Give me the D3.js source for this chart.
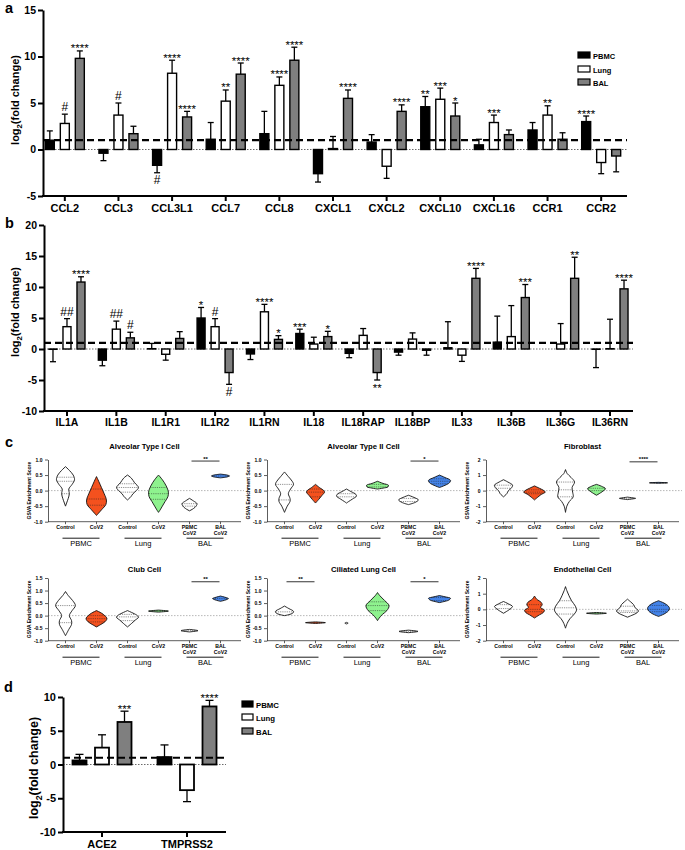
<!DOCTYPE html>
<html>
<head>
<meta charset="utf-8">
<script src="https://cdn.jsdelivr.net/npm/d3@7"></script>
<style>
  body { margin: 0; background: #fff; }
  svg { display: block; font-family: Arial, "Liberation Sans", Helvetica, sans-serif; }
</style>
</head>
<body>
<svg id="fig" width="685" height="850"></svg>
<script>
// ---------- shared ----------
const groups = ["PBMC", "Lung", "BAL"];
const barFills = ["#000000", "#ffffff", "#7f7f7f"];

// ---------- panel a : chemokines ----------
const genesA = ["CCL2", "CCL3", "CCL3L1", "CCL7", "CCL8", "CXCL1", "CXCL2", "CXCL10", "CXCL16", "CCR1", "CCR2"];
const pbmcA = [1.0, -0.4, -1.7, 1.1, 1.7, -2.6, 0.8, 4.6, 0.5, 2.1, 3.0];
const lungA = [2.8, 3.7, 8.2, 5.2, 6.9, 0.1, -1.8, 5.4, 2.9, 3.7, -1.4];
const balA  = [9.8, 1.7, 3.5, 8.1, 9.6, 5.5, 4.1, 3.6, 1.6, 1.1, -0.7];
const pbmcErrA = [1.0, 0.8, 0.8, 1.8, 2.4, 0.9, 0.8, 1.1, 0.6, 0.8, 0.6];
const lungErrA = [1.0, 1.3, 1.4, 1.2, 0.9, 1.3, 1.3, 1.2, 0.8, 1.0, 1.2];
const balErrA  = [0.8, 0.8, 0.6, 1.2, 1.4, 0.9, 0.7, 1.4, 0.5, 0.7, 1.7];
const pbmcSigA = ["", "", "#", "", "", "", "", "**", "", "", "****"];
const lungSigA = ["#", "#", "****", "**", "****", "", "", "***", "***", "**", ""];
const balSigA  = ["****", "", "****", "****", "****", "****", "****", "*", "", "", ""];
const ticksA = [-5, 0, 5, 10, 15];

// ---------- panel b : IL-1 family ----------
const genesB = ["IL1A", "IL1B", "IL1R1", "IL1R2", "IL1RN", "IL18", "IL18RAP", "IL18BP", "IL33", "IL36B", "IL36G", "IL36RN"];
const pbmcB = [-0.05, -1.8, 0.05, 5.0, -0.8, 2.5, -0.7, -0.5, 0.2, 1.1, 0, -0.05];
const lungB = [3.6, 3.2, -0.85, 3.6, 6.0, 0.8, 2.2, 1.6, -1.0, 2.0, 0.8, 0.05];
const balB  = [10.8, 1.8, 1.7, -3.8, 1.55, 2.0, -3.8, -0.2, 11.4, 8.3, 11.4, 9.7];
const pbmcErrB = [2.0, 0.9, 0.85, 1.7, 0.9, 0.7, 0.7, 0.5, 4.2, 4.2, 0, 2.95];
const lungErrB = [1.3, 1.3, 0.95, 1.3, 1.2, 1.1, 1.1, 1.0, 1.0, 5.0, 3.3, 4.75];
const balErrB  = [0.85, 0.9, 1.1, 1.9, 0.6, 0.85, 1.2, 0.8, 1.6, 2.1, 3.4, 1.4];
const pbmcSigB = ["", "", "", "*", "", "***", "", "", "", "", "", ""];
const lungSigB = ["##", "##", "", "#", "****", "", "", "", "", "", "", ""];
const balSigB  = ["****", "#", "", "#", "*", "*", "**", "", "****", "***", "**", "****"];
const ticksB = [-10, -5, 0, 5, 10, 15, 20];

// ---------- panel d : entry factors ----------
const genesD = ["ACE2", "TMPRSS2"];
const pbmcD = [0.6, 1.1];
const lungD = [2.5, -3.8];
const balD  = [6.3, 8.6];
const pbmcErrD = [0.9, 1.8];
const lungErrD = [1.9, 1.7];
const balErrD  = [1.6, 0.9];
const pbmcSigD = ["", ""];
const lungSigD = ["", ""];
const balSigD  = ["***", "****"];
const ticksD = [-10, -5, 0, 5, 10];

// ---------- panel c : GSVA violins ----------
const cellTitles = ["Alveolar Type I Cell", "Alveolar Type II Cell", "Fibroblast", "Club Cell", "Ciliated Lung Cell", "Endothelial Cell"];
const violinCats = ["Control", "CoV2", "Control", "CoV2", "PBMC|CoV2", "BAL|CoV2"];
const tissueLabels = ["PBMC", "Lung", "BAL"];
const violinFills = ["#ffffff", "#f4511e", "#ffffff", "#8ef28e", "#ffffff", "#4483e8"];
const scoreDomains = [[-1, 1], [-1, 1], [-2, 2], [-1, 1.5], [-1, 1.5], [-2, 2]];
const scoreTicks = [
  [-1, -0.5, 0, 0.5, 1], [-1, -0.5, 0, 0.5, 1], [-2, -1, 0, 1, 2],
  [-1, -0.5, 0, 0.5, 1, 1.5], [-1, -0.5, 0, 0.5, 1, 1.5], [-2, -1, 0, 1, 2]
];
// each violin: [score, relative density] from top to bottom
const shapesAT1 = [
  [[0.77,0],[0.65,0.35],[0.5,0.7],[0.35,0.82],[0.2,0.6],[0.05,0.3],[-0.1,0.35],[-0.25,0.25],[-0.4,0.1],[-0.5,0]],
  [[0.45,0],[0.3,0.2],[0.1,0.45],[-0.1,0.7],[-0.3,0.9],[-0.45,0.85],[-0.6,0.5],[-0.72,0.2],[-0.8,0]],
  [[0.5,0],[0.4,0.35],[0.25,0.65],[0.1,1.0],[0.0,0.8],[-0.1,0.5],[-0.2,0.3],[-0.3,0]],
  [[0.5,0],[0.35,0.35],[0.15,0.7],[-0.05,0.9],[-0.2,0.85],[-0.35,0.6],[-0.5,0.35],[-0.62,0.15],[-0.7,0]],
  [[-0.25,0],[-0.33,0.35],[-0.42,0.68],[-0.5,0.6],[-0.58,0.35],[-0.65,0]],
  [[0.53,0],[0.5,0.6],[0.47,0.82],[0.44,0.6],[0.41,0]]
];
const linesAT1 = [[0.43, 0.3, -0.1], [0.05, -0.27, -0.47], [0.22, 0.1, -0.05], [0.1, -0.1, -0.28], [-0.42, -0.5], [0.47]];
const shapesAT2 = [
  [[0.6,0],[0.45,0.35],[0.3,0.7],[0.2,0.82],[0.05,0.55],[-0.1,0.35],[-0.25,0.5],[-0.35,0.5],[-0.5,0.25],[-0.7,0]],
  [[0.2,0],[0.1,0.35],[0.0,0.75],[-0.05,0.82],[-0.15,0.6],[-0.28,0.3],[-0.4,0]],
  [[0.05,0],[-0.03,0.4],[-0.12,0.85],[-0.18,0.9],[-0.27,0.55],[-0.35,0.2],[-0.4,0]],
  [[0.3,0],[0.23,0.5],[0.17,1.0],[0.12,0.95],[0.08,0.5],[0.05,0]],
  [[-0.15,0],[-0.22,0.5],[-0.3,0.9],[-0.38,0.6],[-0.45,0]],
  [[0.5,0],[0.42,0.5],[0.33,1.0],[0.25,0.9],[0.17,0.5],[0.1,0]]
];
const linesAT2 = [[0.2, -0.3], [0.05, -0.05, -0.2], [-0.1, -0.2], [0.2, 0.12], [-0.25, -0.35], [0.38, 0.3, 0.22]];
const shapesFib = [
  [[0.7,0],[0.55,0.4],[0.35,0.82],[0.15,0.7],[0.0,0.45],[-0.2,0.3],[-0.4,0]],
  [[0.3,0],[0.15,0.45],[0.0,0.85],[-0.1,0.98],[-0.25,0.6],[-0.45,0.25],[-0.6,0]],
  [[1.35,0],[1.1,0.15],[0.85,0.5],[0.55,0.82],[0.2,0.6],[-0.1,0.65],[-0.4,0.7],[-0.7,0.35],[-1.0,0.12],[-1.4,0]],
  [[0.4,0],[0.28,0.45],[0.12,0.82],[0.0,0.65],[-0.15,0.35],[-0.3,0]],
  [[-0.42,0],[-0.47,0.5],[-0.5,0.73],[-0.53,0.5],[-0.58,0]],
  [[0.53,0],[0.5,0.82],[0.47,0]]
];
const linesFib = [[0.35, 0.15], [0.05, -0.1, -0.2], [0.55, 0.05, -0.4], [0.15, 0.0], [-0.5], [0.5]];
const shapesClub = [
  [[0.96,0],[0.8,0.25],[0.6,0.65],[0.4,0.9],[0.2,0.6],[0.0,0.35],[-0.2,0.55],[-0.35,0.55],[-0.55,0.3],[-0.8,0]],
  [[0.2,0],[0.1,0.45],[0.0,0.75],[-0.12,0.95],[-0.25,0.75],[-0.35,0.4],[-0.45,0]],
  [[0.2,0],[0.1,0.5],[0.0,0.9],[-0.07,1.0],[-0.18,0.7],[-0.32,0.35],[-0.45,0]],
  [[0.22,0],[0.18,0.9],[0.14,0]],
  [[-0.55,0],[-0.6,0.77],[-0.65,0]],
  [[0.78,0],[0.72,0.5],[0.68,0.72],[0.63,0.5],[0.57,0]]
];
const linesClub = [[0.4, -0.28], [0.0, -0.12, -0.25], [0.05, -0.05, -0.2], [0.18], [-0.6], [0.68]];
const shapesCil = [
  [[0.38,0],[0.28,0.4],[0.17,0.82],[0.1,0.75],[0.04,0.4],[0.0,0]],
  [[-0.25,0],[-0.28,0.9],[-0.31,0]],
  [[-0.27,0],[-0.3,0.15],[-0.33,0]],
  [[0.92,0],[0.8,0.2],[0.6,0.65],[0.4,1.05],[0.2,0.85],[0.05,0.45],[-0.1,0.15],[-0.2,0]],
  [[-0.58,0],[-0.63,0.86],[-0.68,0]],
  [[0.8,0],[0.75,0.5],[0.69,1.0],[0.62,0.85],[0.56,0.4],[0.52,0]]
];
const linesCil = [[0.15], [-0.28], [], [0.55, 0.4, 0.2], [-0.63], [0.72, 0.6]];
const shapesEndo = [
  [[0.5,0],[0.35,0.45],[0.18,0.82],[0.05,0.65],[-0.1,0.35],[-0.25,0]],
  [[0.85,0],[0.65,0.2],[0.45,0.6],[0.3,0.7],[0.12,0.55],[-0.05,0.9],[-0.2,0.8],[-0.35,0.45],[-0.55,0]],
  [[1.45,0],[1.2,0.12],[0.9,0.3],[0.55,0.55],[0.2,0.9],[-0.05,1.0],[-0.3,0.8],[-0.6,0.4],[-0.9,0.15],[-1.2,0]],
  [[-0.2,0],[-0.25,0.9],[-0.3,0]],
  [[0.65,0],[0.5,0.25],[0.3,0.55],[0.1,0.7],[-0.1,1.0],[-0.25,0.8],[-0.38,0.4],[-0.5,0]],
  [[0.55,0],[0.4,0.5],[0.2,0.9],[0.05,1.0],[-0.1,0.9],[-0.3,0.5],[-0.45,0]]
];
const linesEndo = [[0.3, 0.05], [0.3, 0.0, -0.15], [0.55, 0.1, -0.3], [-0.25], [0.2, -0.1, -0.2], [0.25, 0.0, -0.15]];
const allShapes = [shapesAT1, shapesAT2, shapesFib, shapesClub, shapesCil, shapesEndo];
const allLines = [linesAT1, linesAT2, linesFib, linesClub, linesCil, linesEndo];
// [cell, from, to, score, label]
const sigBarsC = [
  [0, 4, 5, 0.95, "**"], [1, 4, 5, 0.95, "*"], [2, 4, 5, 1.85, "****"],
  [3, 4, 5, 1.35, "**"], [4, 0, 1, 1.35, "**"], [4, 4, 5, 1.35, "*"]
];

const svg = d3.select("#fig");

// panel letters
[["a", 5, 13], ["b", 5, 228], ["c", 5, 447], ["d", 4, 692]].forEach(([t, x, y]) => {
  svg.append("text").attr("x", x).attr("y", y).attr("font-size", 14.5)
    .attr("font-weight", "bold").text(t);
});

function logLabel(g, x, y, size) {
  const t = g.append("text").attr("transform", `translate(${x},${y}) rotate(-90)`)
    .attr("text-anchor", "middle").attr("font-weight", "bold").attr("font-size", size);
  t.append("tspan").text("log");
  t.append("tspan").attr("font-size", size * 0.7).attr("dy", size * 0.3).text("2");
  t.append("tspan").attr("dy", -size * 0.3).text("(fold change)");
}

function barPanel(cfg) {
  const g = svg.append("g");
  const y = d3.scaleLinear().domain(cfg.yDomain).range([cfg.yBottom, cfg.yTop]);
  const x = d3.scaleBand().domain(cfg.genes).range(cfg.xRange);
  const cx = (gene, s) => x(gene) + x.bandwidth() / 2 + (s - 1) * cfg.off;

  // dotted zero line
  g.append("line").attr("x1", cfg.axisX).attr("x2", cfg.axisEnd)
    .attr("y1", y(0)).attr("y2", y(0))
    .attr("stroke", "#444").attr("stroke-width", 0.8).attr("stroke-dasharray", "1.5,1.5");

  cfg.vals.forEach((series, s) => {
    const rows = cfg.genes.map((gene, i) => ({
      gene, v: series[i], e: cfg.errs[s][i], sig: cfg.sigs[s][i], dir: series[i] < 0 ? -1 : 1
    }));
    const sg = g.append("g");
    // error bars first so bars cover the stem
    const eb = sg.selectAll("g.err").data(rows.filter(d => d.e > 0)).join("g").attr("class", "err");
    eb.append("line")
      .attr("x1", d => cx(d.gene, s)).attr("x2", d => cx(d.gene, s))
      .attr("y1", d => y(d.v)).attr("y2", d => y(d.v + d.dir * d.e))
      .attr("stroke", "#000").attr("stroke-width", cfg.errW);
    eb.append("line")
      .attr("x1", d => cx(d.gene, s) - cfg.capW / 2).attr("x2", d => cx(d.gene, s) + cfg.capW / 2)
      .attr("y1", d => y(d.v + d.dir * d.e)).attr("y2", d => y(d.v + d.dir * d.e))
      .attr("stroke", "#000").attr("stroke-width", cfg.errW);

    sg.selectAll("rect").data(rows.filter(d => d.v !== 0)).join("rect")
      .attr("x", d => cx(d.gene, s) - cfg.barW / 2).attr("width", cfg.barW)
      .attr("y", d => y(Math.max(0, d.v)))
      .attr("height", d => Math.abs(y(d.v) - y(0)))
      .attr("fill", barFills[s]).attr("stroke", "#000").attr("stroke-width", cfg.barStroke);

    sg.selectAll("text").data(rows.filter(d => d.sig)).join("text")
      .attr("x", d => cx(d.gene, s))
      .attr("y", d => {
        const end = y(d.v + d.dir * d.e);
        if (d.dir < 0) return end + (d.sig.startsWith("#") ? 11.5 : 12);
        return d.sig.startsWith("#") ? end - 3 : end + 1.5;
      })
      .attr("text-anchor", "middle")
      .attr("font-size", d => d.sig.startsWith("#") ? 12 : 11.5)
      .text(d => d.sig);
  });

  // threshold line at log2FC = 1
  g.append("line").attr("x1", cfg.axisX).attr("x2", cfg.axisEnd)
    .attr("y1", y(1)).attr("y2", y(1))
    .attr("stroke", "#000").attr("stroke-width", 2.2).attr("stroke-dasharray", "7,4");

  // axes
  const ya = g.append("g").attr("transform", `translate(${cfg.axisX},0)`)
    .call(d3.axisLeft(y).tickValues(cfg.ticks).tickSize(5).tickSizeOuter(0).tickPadding(2)
      .tickFormat(d => String(d)));
  ya.select(".domain").attr("stroke-width", 2);
  ya.selectAll(".tick line").attr("stroke-width", 2);
  ya.selectAll("text").attr("font-size", cfg.tickFont).attr("font-weight", "bold")
    .attr("font-family", "Arial, 'Liberation Sans', sans-serif");

  const xa = g.append("g").attr("transform", `translate(0,${cfg.yBottom})`)
    .call(d3.axisBottom(x).tickSize(5).tickSizeOuter(0).tickPadding(3));
  xa.select(".domain").remove();
  xa.selectAll(".tick line").attr("stroke-width", 2);
  xa.selectAll("text").attr("font-size", cfg.catFont).attr("font-weight", "bold")
    .attr("font-family", "Arial, 'Liberation Sans', sans-serif");
  g.append("line").attr("x1", cfg.axisX - 1).attr("x2", cfg.axisEnd)
    .attr("y1", cfg.yBottom).attr("y2", cfg.yBottom)
    .attr("stroke", "#000").attr("stroke-width", 2);

  logLabel(g, cfg.labelX, cfg.labelY, cfg.labelFont);
  return g;
}

function legend(x, ys, boxW, boxH, fs) {
  const lg = svg.append("g");
  groups.forEach((name, i) => {
    lg.append("rect").attr("x", x).attr("y", ys[i]).attr("width", boxW).attr("height", boxH)
      .attr("fill", barFills[i]).attr("stroke", "#000").attr("stroke-width", 1.2);
    lg.append("text").attr("x", x + boxW + 3).attr("y", ys[i] + boxH + 0.5)
      .attr("font-size", fs).attr("font-weight", "bold").text(name);
  });
}

// ---- a ----
barPanel({
  genes: genesA, vals: [pbmcA, lungA, balA], errs: [pbmcErrA, lungErrA, balErrA],
  sigs: [pbmcSigA, lungSigA, balSigA], yDomain: [-5, 15], yTop: 10, yBottom: 196,
  xRange: [38, 628], axisX: 43, axisEnd: 627, off: 15, barW: 9, capW: 6, errW: 1.3,
  barStroke: 1.4, ticks: ticksA, tickFont: 10.5, catFont: 11, labelX: 19, labelY: 100, labelFont: 11
});
legend(578, [52, 66, 79], 12, 6, 7.5);

// ---- b ----
barPanel({
  genes: genesB, vals: [pbmcB, lungB, balB], errs: [pbmcErrB, lungErrB, balErrB],
  sigs: [pbmcSigB, lungSigB, balSigB], yDomain: [-10, 20], yTop: 225, yBottom: 411,
  xRange: [42.3, 634.7], axisX: 44, axisEnd: 633, off: 14, barW: 8, capW: 6, errW: 1.3,
  barStroke: 1.4, ticks: ticksB, tickFont: 10.5, catFont: 10.5, labelX: 19, labelY: 312, labelFont: 11
});

// ---- d ----
barPanel({
  genes: genesD, vals: [pbmcD, lungD, balD], errs: [pbmcErrD, lungErrD, balErrD],
  sigs: [pbmcSigD, lungSigD, balSigD], yDomain: [-10, 10], yTop: 697, yBottom: 832,
  xRange: [59.5, 229.5], axisX: 63, axisEnd: 226, off: 22.5, barW: 14, capW: 8, errW: 1.3,
  barStroke: 1.8, ticks: ticksD, tickFont: 11, catFont: 11, labelX: 38, labelY: 768, labelFont: 12.5
});
legend(242, [701, 714, 728], 11, 6, 7.8);

// ---- c ----
const colAxisX = [48, 267, 486];
const rowBox = [{ top: 459.5, bottom: 521.7, title: 449 }, { top: 578, bottom: 640.7, title: 572 }];

function halfAt(profile, v) {
  for (let k = 0; k < profile.length - 1; k++) {
    const [a, da] = profile[k], [b, db] = profile[k + 1];
    if (v <= a && v >= b) return da + (db - da) * ((v - a) / ((b - a) || 1));
  }
  return 0;
}

cellTitles.forEach((title, p) => {
  const ax = colAxisX[p % 3];
  const box = rowBox[Math.floor(p / 3)];
  const right = ax + 193;
  const g = svg.append("g");
  const y = d3.scaleLinear().domain(scoreDomains[p]).range([box.bottom, box.top]);
  const x = d3.scaleBand().domain(d3.range(6)).range([ax + 2, ax + 188]);
  const w = d3.scaleLinear().domain([0, 1]).range([0, 11]);
  const cx = i => x(i) + x.bandwidth() / 2;

  g.append("text").attr("x", (ax + right) / 2).attr("y", box.title)
    .attr("text-anchor", "middle").attr("font-size", 7.7).attr("font-weight", "bold").text(title);

  g.append("line").attr("x1", ax).attr("x2", right + 3).attr("y1", y(0)).attr("y2", y(0))
    .attr("stroke", "#999").attr("stroke-width", 0.7).attr("stroke-dasharray", "1.5,1.5");

  allShapes[p].forEach((shape, i) => {
    const c = cx(i);
    const vArea = d3.area().curve(d3.curveCatmullRom)
      .y(d => y(d[0])).x0(d => c - w(d[1])).x1(d => c + w(d[1]));
    g.append("path").attr("d", vArea(shape))
      .attr("fill", violinFills[i]).attr("stroke", "#111").attr("stroke-width", 0.9);
    allLines[p][i].forEach(q => {
      const hw = w(halfAt(shape, q));
      g.append("line").attr("x1", c - hw).attr("x2", c + hw).attr("y1", y(q)).attr("y2", y(q))
        .attr("stroke", "#222").attr("stroke-width", 0.5).attr("stroke-dasharray", "1.2,1");
    });
  });

  // axes
  const isInt = scoreDomains[p][1] === 2;
  const ya = g.append("g").attr("transform", `translate(${ax},0)`)
    .call(d3.axisLeft(y).tickValues(scoreTicks[p]).tickSize(3).tickSizeOuter(0).tickPadding(2.5)
      .tickFormat(d => isInt ? String(d) : d.toFixed(1)));
  ya.selectAll("path,line").attr("stroke", "#333").attr("stroke-width", 0.8);
  ya.selectAll("text").attr("font-size", 5).attr("font-weight", "bold")
    .attr("font-family", "Arial, 'Liberation Sans', sans-serif");

  g.append("line").attr("x1", ax).attr("x2", right).attr("y1", box.bottom).attr("y2", box.bottom)
    .attr("stroke", "#333").attr("stroke-width", 0.8);
  d3.range(6).forEach(i => {
    g.append("line").attr("x1", cx(i)).attr("x2", cx(i)).attr("y1", box.bottom).attr("y2", box.bottom + 2.5)
      .attr("stroke", "#333").attr("stroke-width", 0.8);
    violinCats[i].split("|").forEach((part, k) => {
      g.append("text").attr("x", cx(i)).attr("y", box.bottom + 7.5 + k * 6)
        .attr("text-anchor", "middle").attr("font-size", 5.2).attr("font-weight", "bold").text(part);
    });
  });
  tissueLabels.forEach((lab, t) => {
    const x1 = cx(2 * t) - 3, x2 = cx(2 * t + 1) + 3;
    g.append("line").attr("x1", x1).attr("x2", x2).attr("y1", box.bottom + 16.5).attr("y2", box.bottom + 16.5)
      .attr("stroke", "#000").attr("stroke-width", 0.9);
    g.append("text").attr("x", (x1 + x2) / 2).attr("y", box.bottom + 24.5)
      .attr("text-anchor", "middle").attr("font-size", 7.5).text(lab);
  });

  g.append("text").attr("transform", `translate(${ax - 17},${(box.top + box.bottom) / 2}) rotate(-90)`)
    .attr("text-anchor", "middle").attr("font-size", 5).attr("font-weight", "bold")
    .text("GSVA Enrichment Score");

  sigBarsC.filter(s => s[0] === p).forEach(([, a, b, v, lab]) => {
    g.append("line").attr("x1", cx(a) + 2).attr("x2", cx(b) - 1).attr("y1", y(v)).attr("y2", y(v))
      .attr("stroke", "#000").attr("stroke-width", 0.8);
    g.append("text").attr("x", (cx(a) + cx(b)) / 2 + 0.5).attr("y", y(v) - 0.5)
      .attr("text-anchor", "middle").attr("font-size", 6).attr("font-weight", "bold").text(lab);
  });
});
</script>
</body>
</html>
